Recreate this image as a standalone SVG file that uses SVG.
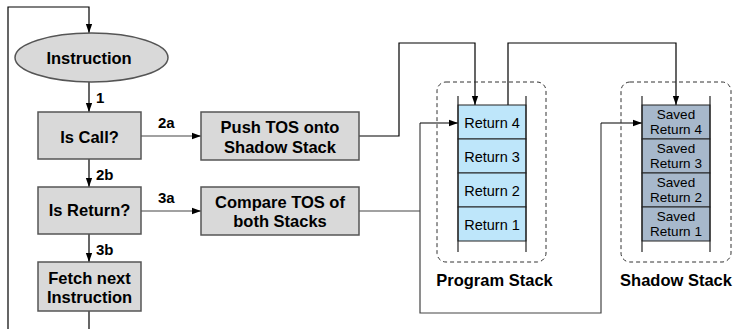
<svg xmlns="http://www.w3.org/2000/svg" width="734" height="329" viewBox="0 0 734 329">
<defs>
<style>
.box{fill:#d9d9d9;stroke:#555;stroke-width:1.5}
.t{font-family:"Liberation Sans",Arial,sans-serif;font-weight:bold;font-size:16.5px;fill:#000;text-anchor:middle}
.lbl{font-family:"Liberation Sans",Arial,sans-serif;font-weight:bold;font-size:15px;fill:#000}
.c{font-family:"Liberation Sans",Arial,sans-serif;font-size:14.5px;fill:#000;text-anchor:middle}
.cs{font-family:"Liberation Sans",Arial,sans-serif;font-size:13.5px;fill:#000;text-anchor:middle}
.ln{fill:none;stroke:#000;stroke-width:1.2}
.gl{fill:none;stroke:#444;stroke-width:1.2}
.ps{fill:#bee6fa;stroke:#222;stroke-width:1}
.ss{fill:#a7b8cb;stroke:#222;stroke-width:1}
.wall{stroke:#222;stroke-width:1.2}
.dash{fill:none;stroke:#333;stroke-width:1;stroke-dasharray:4,3}
</style>
<marker id="ah" viewBox="0 0 10 10" refX="10" refY="5" markerWidth="9" markerHeight="9" markerUnits="userSpaceOnUse" orient="auto">
<path d="M0,1.5 L10,5 L0,8.5 z" fill="#000"/>
</marker>
</defs>

<g id="connectors">
<path class="ln" d="M89,329 V311"/>
<path class="ln" d="M8,329 V7 H89 V33" marker-end="url(#ah)"/>
<path class="ln" d="M89,82 V112" marker-end="url(#ah)"/>
<path class="ln" d="M89,159 V187" marker-end="url(#ah)"/>
<path class="ln" d="M89,234 V262" marker-end="url(#ah)"/>
<path class="gl" d="M141,136 H201" marker-end="url(#ah)"/>
<path class="gl" d="M141,211 H201" marker-end="url(#ah)"/>
<path class="ln" d="M359,136 H399 V43 H475 V105" marker-end="url(#ah)"/>
<path class="ln" d="M508,105 V43 H676 V105" marker-end="url(#ah)"/>
<path class="gl" d="M359,211 H420"/>
<path class="gl" d="M420,123 V313 H601 V123"/>
<path class="ln" d="M420,123 H458" marker-end="url(#ah)"/>
<path class="ln" d="M601,123 H642" marker-end="url(#ah)"/>
<text class="lbl" x="96" y="103">1</text>
<text class="lbl" x="158" y="128">2a</text>
<text class="lbl" x="96" y="180">2b</text>
<text class="lbl" x="158" y="203">3a</text>
<text class="lbl" x="96" y="255">3b</text>
</g>

<g id="instruction">
<ellipse cx="91.5" cy="57.5" rx="76.5" ry="24.5" class="box"/>
<text class="t" x="89" y="64">Instruction</text>
</g>
<g id="is-call">
<rect x="38" y="112" width="103" height="47" class="box"/>
<text class="t" x="89.5" y="143">Is Call?</text>
</g>
<g id="is-return">
<rect x="38" y="187" width="103" height="47" class="box"/>
<text class="t" x="89.5" y="216">Is Return?</text>
</g>
<g id="fetch-next">
<rect x="38" y="262" width="103" height="49" class="box"/>
<text class="t" x="89.5" y="284">Fetch next</text>
<text class="t" x="89.5" y="303">Instruction</text>
</g>
<g id="push-tos">
<rect x="201" y="112" width="158" height="48" class="box"/>
<text class="t" x="280" y="133">Push TOS onto</text>
<text class="t" x="280" y="152.5">Shadow Stack</text>
</g>
<g id="compare-tos">
<rect x="201" y="187" width="158" height="48" class="box"/>
<text class="t" x="280" y="208">Compare TOS of</text>
<text class="t" x="280" y="227">both Stacks</text>
</g>

<g id="program-stack">
<rect x="437" y="82" width="109" height="180" rx="9" class="dash"/>
<rect x="458" y="105" width="68" height="34" class="ps"/>
<rect x="458" y="139" width="68" height="34" class="ps"/>
<rect x="458" y="173" width="68" height="34" class="ps"/>
<rect x="458" y="207" width="68" height="34" class="ps"/>
<line x1="458" y1="96" x2="458" y2="252" class="wall"/>
<line x1="526" y1="96" x2="526" y2="252" class="wall"/>
<text class="c" x="492" y="128">Return 4</text>
<text class="c" x="492" y="162">Return 3</text>
<text class="c" x="492" y="196">Return 2</text>
<text class="c" x="492" y="230">Return 1</text>
<text class="t" x="494.5" y="286">Program Stack</text>
</g>

<g id="shadow-stack">
<rect x="621" y="82" width="110" height="180" rx="9" class="dash"/>
<rect x="642" y="105" width="68" height="34" class="ss"/>
<rect x="642" y="139" width="68" height="34" class="ss"/>
<rect x="642" y="173" width="68" height="34" class="ss"/>
<rect x="642" y="207" width="68" height="34" class="ss"/>
<line x1="642" y1="96" x2="642" y2="252" class="wall"/>
<line x1="710" y1="96" x2="710" y2="252" class="wall"/>
<text class="cs" x="676" y="119">Saved</text>
<text class="cs" x="676" y="134">Return 4</text>
<text class="cs" x="676" y="153">Saved</text>
<text class="cs" x="676" y="168">Return 3</text>
<text class="cs" x="676" y="187">Saved</text>
<text class="cs" x="676" y="202">Return 2</text>
<text class="cs" x="676" y="221">Saved</text>
<text class="cs" x="676" y="236">Return 1</text>
<text class="t" x="676" y="286">Shadow Stack</text>
</g>
</svg>
